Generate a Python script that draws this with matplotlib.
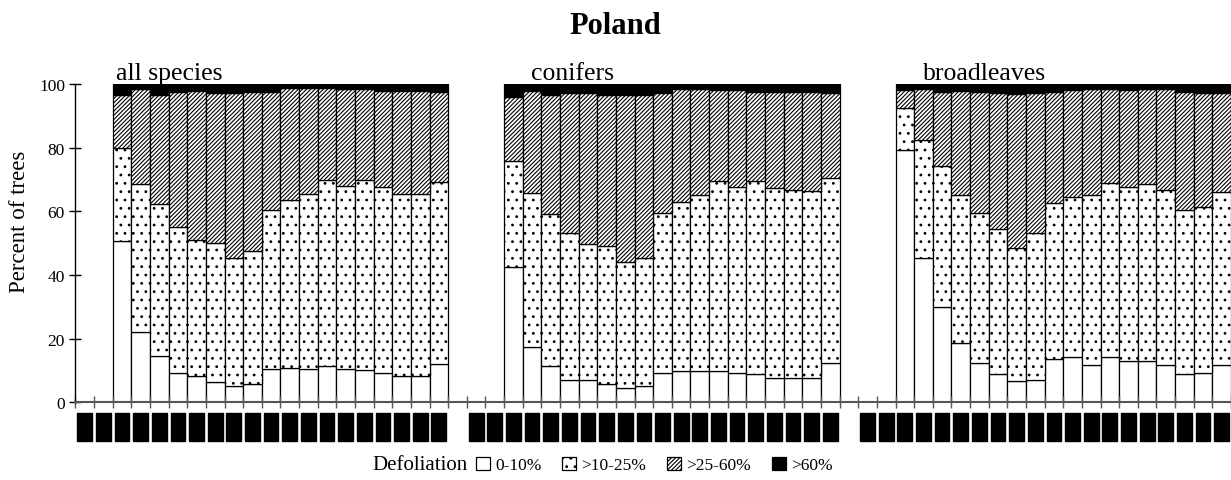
import matplotlib
matplotlib.use("Agg")
import matplotlib.pyplot as plt
from matplotlib.patches import Patch
import numpy as np

plt.rcParams['font.family'] = ['Liberation Serif', 'DejaVu Serif']
plt.rcParams['hatch.linewidth'] = 0.8

years = list(range(1989, 2009))          # 20 label slots per panel
first_data_slot = 2                      # data start in 1991
panels = ['all species', 'conifers', 'broadleaves']
classes = ['0-10%', '>10-25%', '>25-60%', '>60%']

# all species
all_c1 = [50.8, 22.0, 14.4, 9.1, 8.3, 6.5, 5.1, 5.8, 10.4, 10.9, 10.4, 11.3, 10.4, 10.0, 9.1, 8.3, 8.3, 12.1]
all_c2 = [29.1, 46.5, 47.8, 46.0, 42.7, 43.5, 40.2, 41.6, 49.9, 52.8, 55.0, 58.4, 57.7, 59.7, 58.5, 57.1, 57.1, 57.1]
all_c3 = [16.7, 29.8, 34.4, 42.5, 46.9, 47.1, 51.8, 50.1, 37.2, 35.1, 33.4, 29.1, 30.2, 28.6, 30.3, 32.5, 32.5, 28.3]
all_c4 = [3.4, 1.7, 3.4, 2.4, 2.1, 2.9, 2.9, 2.5, 2.5, 1.2, 1.2, 1.2, 1.7, 1.7, 2.1, 2.1, 2.1, 2.5]

# conifers
con_c1 = [42.4, 17.5, 11.5, 7.1, 7.1, 5.8, 4.5, 5.0, 9.2, 9.7, 9.7, 9.7, 9.3, 8.9, 7.6, 7.6, 7.6, 12.3]
con_c2 = [33.5, 48.2, 47.7, 46.1, 42.6, 43.4, 39.7, 40.3, 50.3, 53.3, 55.4, 59.7, 58.4, 60.5, 59.6, 59.2, 58.8, 58.1]
con_c3 = [20.0, 32.2, 37.2, 44.0, 47.4, 47.5, 52.5, 51.4, 37.7, 35.4, 33.3, 28.6, 30.3, 28.2, 30.4, 30.8, 31.0, 26.8]
con_c4 = [4.1, 2.1, 3.6, 2.8, 2.9, 3.3, 3.3, 3.3, 2.8, 1.6, 1.6, 2.0, 2.0, 2.4, 2.4, 2.4, 2.6, 2.8]

# broadleaves
brd_c1 = [79.4, 45.3, 29.9, 18.7, 12.3, 8.9, 6.8, 7.1, 13.7, 14.1, 11.8, 14.1, 12.9, 12.9, 11.8, 8.9, 9.3, 11.8]
brd_c2 = [13.1, 37.0, 44.2, 46.4, 47.2, 45.4, 41.7, 46.0, 48.8, 50.3, 53.3, 54.9, 54.8, 55.6, 55.0, 51.4, 52.0, 54.2]
brd_c3 = [5.5, 16.1, 23.5, 32.8, 38.1, 42.9, 48.3, 44.1, 35.1, 33.6, 33.3, 29.4, 30.3, 29.9, 31.6, 37.3, 35.9, 31.2]
brd_c4 = [2.0, 1.6, 2.4, 2.1, 2.4, 2.8, 3.2, 2.8, 2.4, 2.0, 1.6, 1.6, 2.0, 1.6, 1.6, 2.4, 2.8, 2.8]

data = [[all_c1, all_c2, all_c3, all_c4],
        [con_c1, con_c2, con_c3, con_c4],
        [brd_c1, brd_c2, brd_c3, brd_c4]]

fills = ['white', 'white', 'white', 'black']
hatches = [None, '..', '////////', None]

W, H = 1231, 481
fig = plt.figure(figsize=(W / 100, H / 100), dpi=100)
ax = fig.add_axes([75.4 / W, 77.7 / H, (W - 75.4) / W, 318.3 / H])

slots = len(years) + 1  # one empty slot between panels
label_pos = []
label_txt = []
for p, series in enumerate(data):
    x = p * slots + first_data_slot + np.arange(len(series[0])) + 0.5
    bottom = np.zeros(len(x))
    for c in range(4):
        ax.bar(x, series[c], width=1.0, bottom=bottom, color=fills[c],
               hatch=hatches[c], edgecolor='black', linewidth=0.9)
        bottom += np.array(series[c])
    label_pos += list(p * slots + np.arange(len(years)) + 0.5)
    label_txt += [str(y) for y in years]

label_x = [2.2, 24.45, 45.5]
for p, name in enumerate(panels):
    ax.text(label_x[p], 101.6, name, fontsize=18.5, va='baseline', ha='left', clip_on=False)

ax.set_xlim(0, (W - 75.4) / 18.67)
ax.set_ylim(0, 100)
ax.set_yticks(range(0, 101, 20))
ax.tick_params(axis='y', direction='inout', length=9, width=1, labelsize=12.5, pad=3)

ax.set_xticks(label_pos)
ax.set_xticklabels(label_txt, rotation=90, fontsize=9, color='black')
for t in ax.get_xticklabels():
    t.set_bbox(dict(facecolor='black', edgecolor='black', pad=1.0))
ax.tick_params(axis='x', which='major', length=0, pad=9)
ax.set_xticks(np.arange(0, 3 * slots), minor=True)
ax.tick_params(axis='x', which='minor', direction='inout', length=8, width=1, color='#555555')

for s in ['top', 'right']:
    ax.spines[s].set_visible(False)
ax.spines['bottom'].set_color('#555555')
ax.spines['bottom'].set_linewidth(1.5)
ax.spines['left'].set_linewidth(1.0)

fig.text(0.5, 1 - 27 / H, 'Poland', fontsize=22, fontweight='bold', ha='center', va='center')
fig.text(20 / W, 1 - 222 / H, 'Percent of trees', fontsize=16.5, rotation=90, ha='center', va='center')

fig.text(420 / W, 15 / H, 'Defoliation', fontsize=15, ha='center', va='center')
handles = [Patch(facecolor=fills[c], hatch=hatches[c], edgecolor='black', linewidth=0.9, label=classes[c])
           for c in range(4)]
fig.legend(handles=handles, loc='center left', bbox_to_anchor=(476 / W, 15 / H), ncol=4, frameon=False,
           fontsize=12.5, handlelength=0.8, handleheight=0.8, handletextpad=0.3, columnspacing=1.2,
           borderpad=0, borderaxespad=0)

fig.savefig('out.png', dpi=100)
